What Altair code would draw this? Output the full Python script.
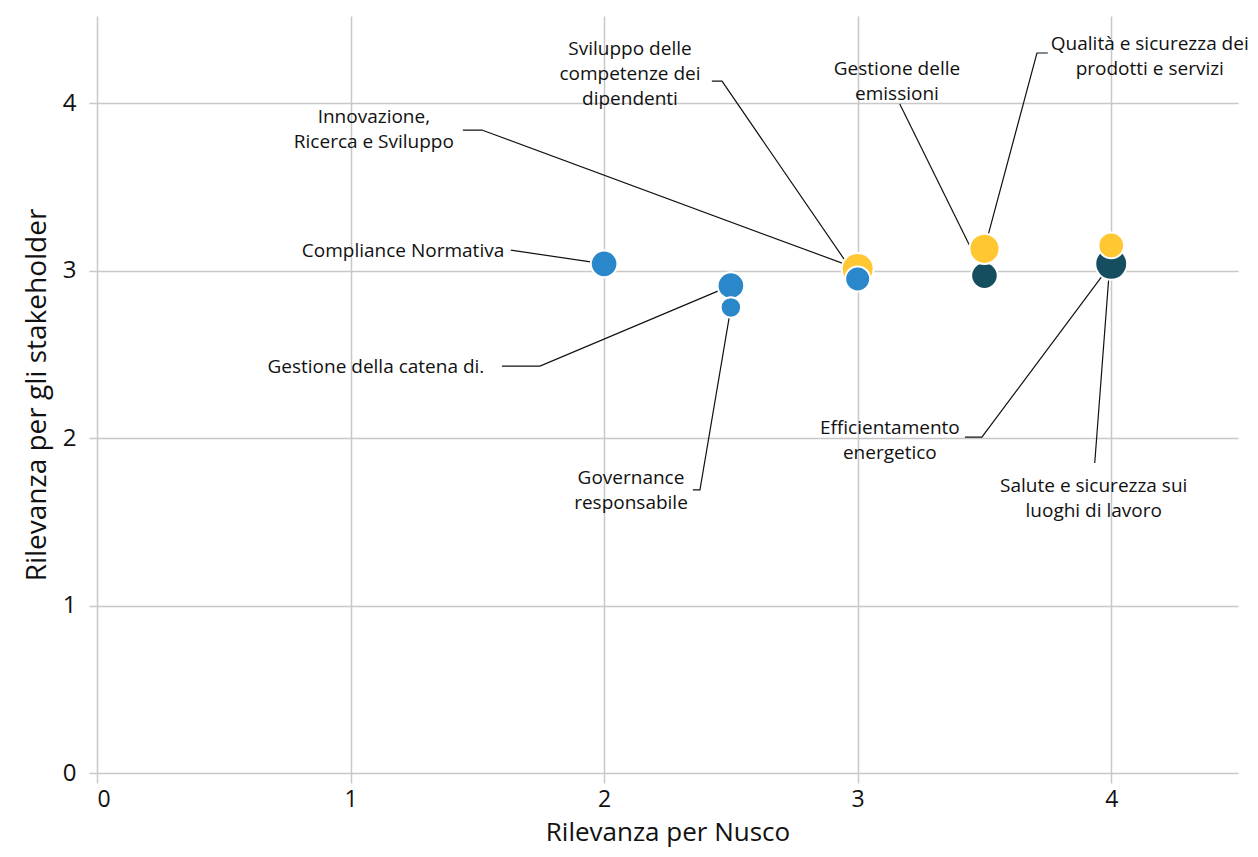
import altair as alt
import pandas as pd

# --- data ---------------------------------------------------------------
temi = [
    "Compliance Normativa",
    "Gestione della catena di.",
    "Governance responsabile",
    "Innovazione, Ricerca e Sviluppo",
    "Sviluppo delle competenze dei dipendenti",
    "Gestione delle emissioni",
    "Qualità e sicurezza dei prodotti e servizi",
    "Efficientamento energetico",
    "Salute e sicurezza sui luoghi di lavoro",
]
rilevanza_nusco = [2.0, 2.5, 2.5, 3.0, 3.0, 3.5, 3.5, 4.0, 4.0]
rilevanza_stakeholder = [3.04, 2.91, 2.78, 3.01, 2.95, 2.97, 3.13, 3.04, 3.15]
peso = [7.1, 7.1, 4.2, 10.2, 6.2, 7.1, 9.1, 10.2, 6.6]
gruppo = ["Governance", "Governance", "Governance", "Sociale", "Governance",
          "Ambiente", "Sociale", "Ambiente", "Sociale"]
ordine = [0, 1, 2, 3, 4, 5, 6, 7, 8]

# label text (multi-line) and label anchor (first line) in data units
etichette = [
    "Compliance Normativa",
    "Gestione della catena di.",
    "Governance\nresponsabile",
    "Innovazione,\nRicerca e Sviluppo",
    "Sviluppo delle\ncompetenze dei\ndipendenti",
    "Gestione delle\nemissioni",
    "Qualità e sicurezza dei\nprodotti e servizi",
    "Efficientamento\nenergetico",
    "Salute e sicurezza sui\nluoghi di lavoro",
]
etichetta_x = [1.207, 1.100, 2.106, 1.092, 2.102, 3.155, 4.152, 3.127, 3.931]
etichetta_y = [3.116, 2.424, 1.761, 3.916, 4.322, 4.203, 4.352, 2.060, 1.713]

# connector start and elbow in data units
linea_x0 = [1.632, 1.597, 2.350, 1.443, 2.425, 3.166, 3.750, 3.423, 3.935]
linea_y0 = [3.122, 2.430, 1.690, 3.839, 4.131, 3.994, 4.299, 2.006, 1.851]
gomito_x = [1.632, 1.747, 2.378, 1.518, 2.465, 3.166, 3.707, 3.490, 3.935]
gomito_y = [3.122, 2.430, 1.690, 3.839, 4.131, 3.994, 4.299, 2.006, 1.851]

colori_dom = ["Governance", "Sociale", "Ambiente"]
colori_rng = ["#2A87C9", "#FFC833", "#154F5F"]

FONT = "Open Sans"

# --- tables -------------------------------------------------------------
punti = pd.DataFrame({
    "tema": temi, "x": rilevanza_nusco, "y": rilevanza_stakeholder,
    "peso": peso, "gruppo": gruppo, "ordine": ordine,
})
testi = pd.DataFrame({"testo": etichette, "x": etichetta_x, "y": etichetta_y})

righe = []
for i, t in enumerate(temi):
    righe.append({"tema": t, "k": 0, "x": linea_x0[i], "y": linea_y0[i]})
    righe.append({"tema": t, "k": 1, "x": gomito_x[i], "y": gomito_y[i]})
    righe.append({"tema": t, "k": 2, "x": rilevanza_nusco[i], "y": rilevanza_stakeholder[i]})
linee = pd.DataFrame(righe)

GRID = "#C8C8C8"
xscale = alt.Scale(domain=[0, 4.5], nice=False, zero=False)
yscale = alt.Scale(domain=[0, 4.52], nice=False, zero=False)

xax = alt.Axis(values=[0, 1, 2, 3, 4], format="d", title="Rilevanza per Nusco",
               grid=True, gridColor=GRID, gridWidth=1.5, domain=False,
               tickColor=GRID, tickWidth=1.5, tickSize=10, labelFontSize=23,
               labelFont=FONT, labelColor="#111", labelPadding=5,
               titleFont=FONT, titleFontSize=26, titleFontWeight="normal",
               titleColor="#111", titlePadding=8)
yax = alt.Axis(values=[0, 1, 2, 3, 4], format="d",
               title="Rilevanza per gli stakeholder",
               grid=True, gridColor=GRID, gridWidth=1.5, domain=False,
               tickColor=GRID, tickWidth=1.5, tickSize=8, labelFontSize=24,
               labelFont=FONT, labelColor="#111", labelPadding=13,
               titleFont=FONT, titleFontSize=28, titleFontWeight="normal",
               titleColor="#111", titlePadding=11)

base_lines = alt.Chart(linee).mark_line(color="#111", strokeWidth=1.2, clip=False).encode(
    x=alt.X("x:Q", scale=xscale, axis=xax),
    y=alt.Y("y:Q", scale=yscale, axis=yax),
    detail="tema:N",
    order="k:O",
)

bolle = alt.Chart(punti).mark_circle(opacity=1, stroke="white", strokeWidth=2).encode(
    x=alt.X("x:Q", scale=xscale),
    y=alt.Y("y:Q", scale=yscale),
    size=alt.Size("peso:Q", scale=alt.Scale(domain=[0, 10.2], range=[0, 1020]), legend=None),
    color=alt.Color("gruppo:N", scale=alt.Scale(domain=colori_dom, range=colori_rng), legend=None),
    order=alt.Order("ordine:Q"),
)

label = alt.Chart(testi).mark_text(
    font=FONT, fontSize=19, color="#111", lineBreak="\n", lineHeight=25,
    align="center", baseline="middle", clip=False,
).encode(
    x=alt.X("x:Q", scale=xscale),
    y=alt.Y("y:Q", scale=yscale),
    text="testo:N",
)

chart = (base_lines + bolle + label).properties(
    width=1141, height=757,
    autosize=alt.AutoSizeParams(type="none"),
    padding={"left": 89, "top": 8, "right": 12, "bottom": 76},
).configure_view(stroke=None)

chart.save("out.html", embed_options={"renderer": "svg", "actions": False})
